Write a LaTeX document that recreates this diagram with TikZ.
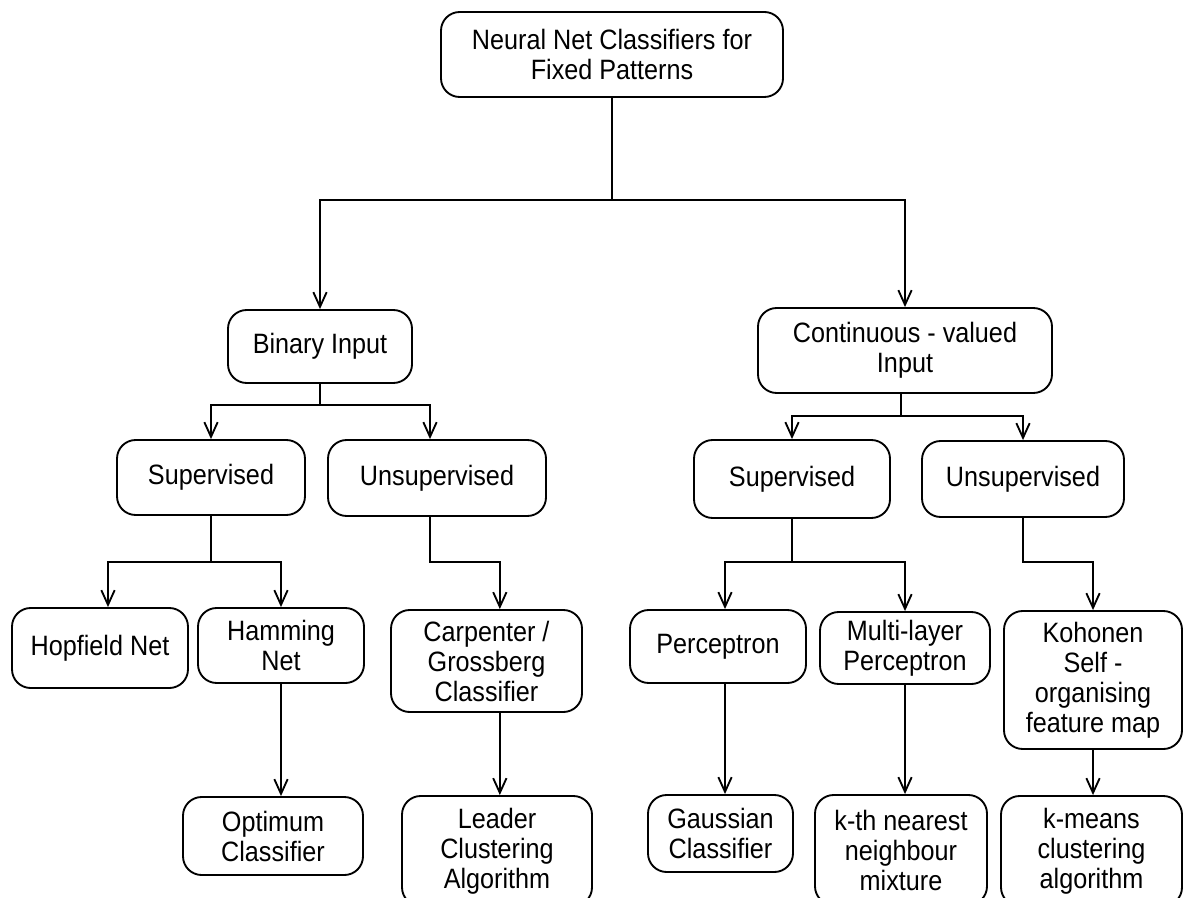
\documentclass[tikz,border=0pt]{standalone}
\usepackage{fontspec}
\setmainfont{Liberation Sans}[FakeStretch=0.9]
\usetikzlibrary{arrows.meta}
\begin{document}
\begin{tikzpicture}[x=0.75pt,y=-0.75pt,
  box/.style={draw, line width=1.4pt, rounded corners=14pt, align=center,
    inner sep=2pt, font=\fontsize{21}{22.5}\selectfont},
  sz/.style 2 args={minimum width=#1*0.75pt, minimum height=#2*0.75pt},
  link/.style={line width=1.4pt},
  arr/.style={link, -{Straight Barb[length=11pt,width=10pt,line width=1.4pt]}}]
\useasboundingbox (0,0) rectangle (1184,898);
\fill[white] (0,0) rectangle (1184,898);
\clip (0,0) rectangle (1184,898);

% root and input type
\node[box, sz={342}{85}] (root) at (612,54.5) {Neural Net Classifiers for\\Fixed Patterns};
\node[box, sz={184}{73}] (bin) at (320,346.5) {Binary Input};
\node[box, sz={294}{85}] (cont) at (905,350.5) {Continuous - valued\\Input};

% learning mode
\node[box, sz={188}{75}] (bsup) at (211,477.5) {Supervised};
\node[box, sz={218}{76}] (buns) at (437,478) {Unsupervised};
\node[box, sz={196}{78}] (csup) at (792,479) {Supervised};
\node[box, sz={202}{76}] (cuns) at (1023,479) {Unsupervised};

% neural classifiers
\node[box, sz={176}{80}] (hop) at (100,648) {Hopfield Net};
\node[box, sz={166}{75}] (ham) at (281,645.5) {Hamming\\Net};
\node[box, sz={191}{102}] (carp) at (486.5,661) {Carpenter /\\Grossberg\\Classifier};
\node[box, sz={176}{73}] (perc) at (718,646.5) {Perceptron};
\node[box, sz={170}{72}] (mlp) at (905,648) {Multi-layer\\Perceptron};
\node[box, sz={178}{138}] (koh) at (1093,680) {Kohonen\\Self -\\organising\\feature map};

% classical counterparts
\node[box, sz={180}{78}] (opt) at (273,836) {Optimum\\Classifier};
\node[box, sz={190}{110}] (lead) at (497,851) {Leader\\Clustering\\Algorithm};
\node[box, sz={145}{77}] (gau) at (720.5,833.5) {Gaussian\\Classifier};
\node[box, sz={172}{110}] (knn) at (901,850) {k-th nearest\\neighbour\\mixture};
\node[box, sz={181}{110}] (kmn) at (1091.5,851) {k-means\\clustering\\algorithm};

% branch levels
\coordinate (y1) at (0,200);
\coordinate (y2) at (0,405);
\coordinate (y3) at (0,416);
\coordinate (y4) at (0,562);

\draw[arr] (root.south) -- (root.south |- y1) -| (bin.north);
\draw[arr] (root.south |- y1) -| (cont.north);

\draw[arr] (bin.south) -- (bin.south |- y2) -| (bsup.north);
\draw[arr] (bin.south |- y2) -| ([xshift=-5.25pt]buns.north);

\draw[arr] ([xshift=-3pt]cont.south) -- ([xshift=-3pt]cont.south |- y3) -| (csup.north);
\draw[arr] ([xshift=-3pt]cont.south |- y3) -| (cuns.north);

\draw[arr] (bsup.south) -- (bsup.south |- y4) -| ([xshift=6pt]hop.north);
\draw[arr] (bsup.south |- y4) -| (ham.north);

\draw[arr] ([xshift=-5.25pt]buns.south) -- ([xshift=-5.25pt]buns.south |- y4) -| ([xshift=10pt]carp.north);

\draw[arr] (csup.south) -- (csup.south |- y4) -| ([xshift=5.25pt]perc.north);
\draw[arr] (csup.south |- y4) -| (mlp.north);

\draw[arr] (cuns.south) -- (cuns.south |- y4) -| (koh.north);

\draw[arr] (ham.south) -- (ham.south |- opt.north);
\draw[arr] ([xshift=10pt]carp.south) -- ([xshift=10pt]carp.south |- lead.north);
\draw[arr] ([xshift=5.25pt]perc.south) -- ([xshift=5.25pt]perc.south |- gau.north);
\draw[arr] (mlp.south) -- (mlp.south |- knn.north);
\draw[arr] (koh.south) -- (koh.south |- kmn.north);
\end{tikzpicture}
\end{document}
